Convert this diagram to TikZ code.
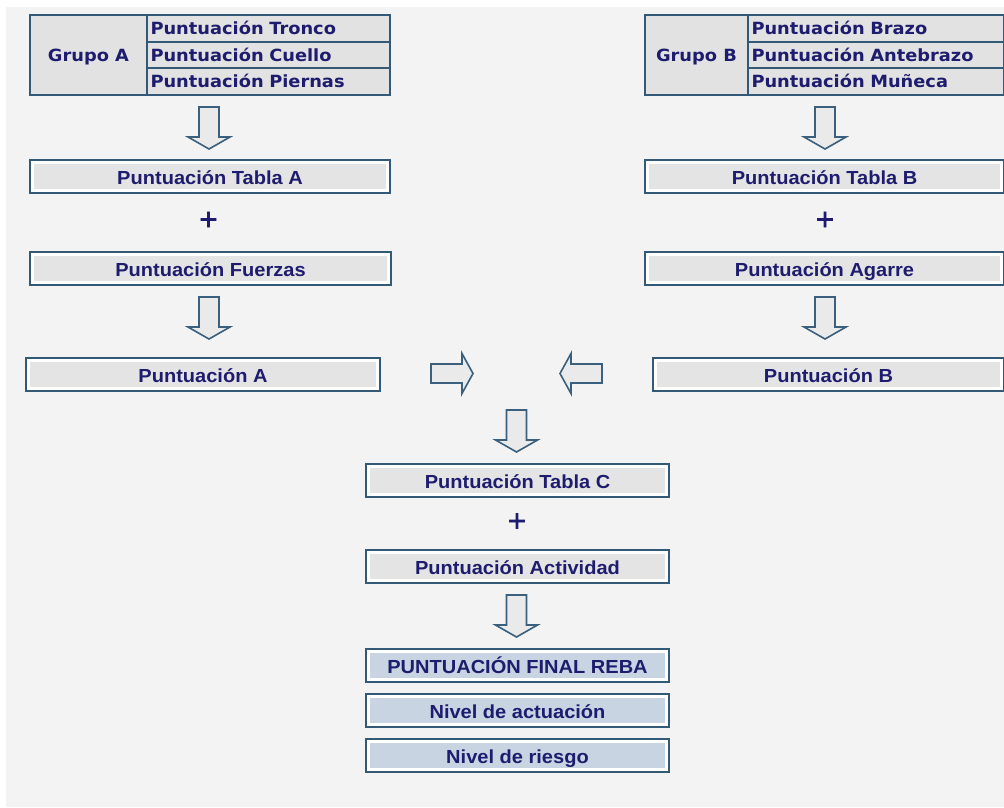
\documentclass[tikz,border=0pt]{standalone}
\usepackage{fontspec}
\newfontfamily\tblfont[FakeStretch=1.06]{DejaVu Sans}
\newfontfamily\plusfont[FakeBold=3]{DejaVu Sans}
\newfontfamily\boxfont[FakeStretch=1.06]{Liberation Sans}
\definecolor{bordc}{RGB}{50,90,118}
\definecolor{arrc}{RGB}{58,96,126}
\definecolor{txtc}{RGB}{30,28,110}
\definecolor{cellg}{RGB}{226,226,226}
\definecolor{boxg}{RGB}{228,228,228}
\definecolor{boxb}{RGB}{200,212,226}
\definecolor{bgg}{RGB}{243,243,243}
\definecolor{arrg}{RGB}{234,234,234}
\begin{document}
\begin{tikzpicture}[x=1pt,y=-1pt,
  flow/.style={rectangle, draw=bordc, line width=2pt, fill=white, inner sep=0pt,
    anchor=north west, text=txtc, minimum height=33pt,
    text height=15pt, text depth=0pt,
    font=\boxfont\bfseries\fontsize{18.9}{22}\selectfont,
    path picture={\fill[#1] ([xshift=4pt,yshift=-4pt]path picture bounding box.north west)
      rectangle ([xshift=-4pt,yshift=4pt]path picture bounding box.south east);}},
  flow/.default=boxg,
  cell/.style={rectangle, draw=bordc, line width=2pt, fill=cellg, inner xsep=3.5pt, inner ysep=0pt,
    anchor=north west, text=txtc, text height=12pt, text depth=0pt,
    font=\tblfont\bfseries\fontsize{16.8}{20}\selectfont},
  rcell/.style={cell, minimum height=26.67pt, text width=#1, align=left},
  blkarrow/.style={draw=arrc, line width=1.6pt, fill=arrg, line join=miter},
  plussign/.style={text=txtc, font=\plusfont\fontsize{24}{24}\selectfont, inner sep=0pt},
  downblk/.pic={\path[blkarrow] (-10,0) -- (10,0) -- (10,30) -- (21,30) -- (0,42) -- (-21,30) -- (-10,30) -- cycle;},
  rightblk/.pic={\path[blkarrow] (0,-9.5) -- (31,-9.5) -- (31,-20) -- (42,0) -- (31,20) -- (31,9.5) -- (0,9.5) -- cycle;},
  leftblk/.pic={\path[blkarrow] (0,0) -- (11,-20) -- (11,-9.5) -- (42,-9.5) -- (42,9.5) -- (11,9.5) -- (11,20) -- cycle;}
]
\useasboundingbox (0,0) rectangle (1004,807);
\fill[white] (0,0) rectangle (1004,807);
\fill[bgg] (6,7) rectangle (1004,807);

% Group A table
\node[cell, minimum width=117pt, minimum height=80pt] (gA) at (29,14) {Grupo A};
\node[rcell=236pt] (gA1) at (146,14) {Puntuación Tronco};
\node[rcell=236pt] (gA2) at (146,40.67) {Puntuación Cuello};
\node[rcell=236pt] (gA3) at (146,67.33) {Puntuación Piernas};

% Group B table
\node[cell, minimum width=103pt, minimum height=80pt] (gB) at (644,14) {Grupo B};
\node[rcell=249pt] (gB1) at (747,14) {Puntuación Brazo};
\node[rcell=249pt] (gB2) at (747,40.67) {Puntuación Antebrazo};
\node[rcell=249pt] (gB3) at (747,67.33) {Puntuación Muñeca};

% arrows from groups
\pic (arA1) at (209,107) {downblk};
\pic (arB1) at (825,107) {downblk};

% Left column
\node[flow, minimum width=360pt] (tA) at (29,159) {Puntuación Tabla A};
\node[plussign] (plA) at (208.5,219.5) {+};
\node[flow, minimum width=361pt] (fA) at (29,251) {Puntuación Fuerzas};
\pic (arA2) at (209,297) {downblk};
\node[flow, minimum width=354pt] (pA) at (25,357) {Puntuación A};

% Right column
\node[flow, minimum width=359pt] (tB) at (644,159) {Puntuación Tabla B};
\node[plussign] (plB) at (825,219.5) {+};
\node[flow, minimum width=359pt] (agB) at (644,251) {Puntuación Agarre};
\pic (arB2) at (825,297) {downblk};
\node[flow, minimum width=351pt] (pB) at (652,357) {Puntuación B};

% horizontal arrows
\pic (arR) at (431,373.5) {rightblk};
\pic (arL) at (560,373.5) {leftblk};

% Center column
\pic (arC1) at (516.5,410) {downblk};
\node[flow, minimum width=303pt] (tC) at (365,463) {Puntuación Tabla C};
\node[plussign] (plC) at (517,521) {+};
\node[flow, minimum width=303pt] (act) at (365,549) {Puntuación Actividad};
\pic (arC2) at (516.5,595) {downblk};
\node[flow=boxb, minimum width=303pt] (fin) at (365,648) {PUNTUACIÓN FINAL REBA};
\node[flow=boxb, minimum width=303pt] (nivA) at (365,693) {Nivel de actuación};
\node[flow=boxb, minimum width=303pt] (nivR) at (365,738) {Nivel de riesgo};
\end{tikzpicture}
\end{document}
